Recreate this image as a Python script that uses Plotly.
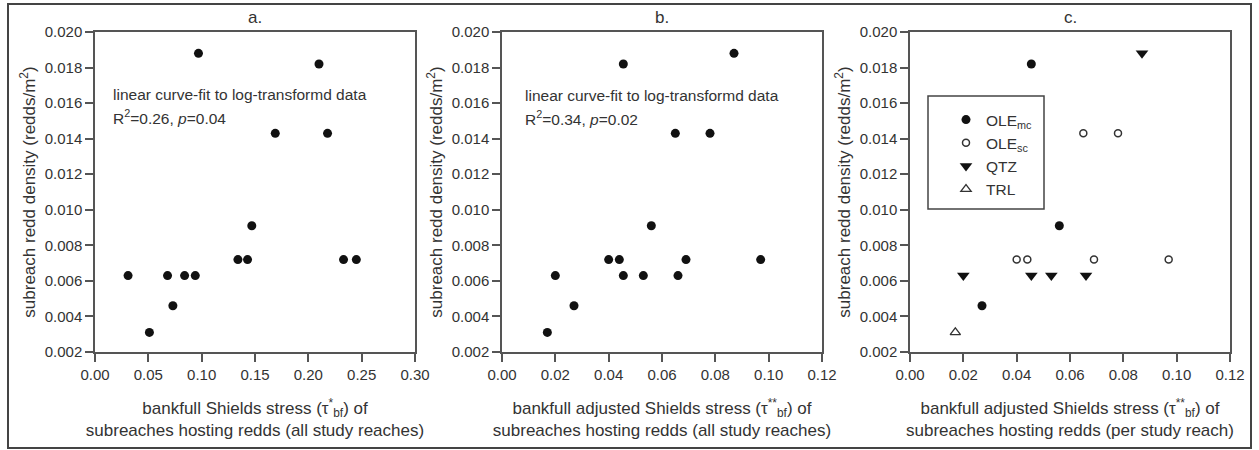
import plotly.graph_objects as go

# ---------------- data ----------------
a_x = [0.031, 0.051, 0.068, 0.073, 0.084, 0.094, 0.097, 0.134, 0.143, 0.147, 0.169, 0.210, 0.218, 0.233, 0.245]
a_y = [0.0063, 0.0031, 0.0063, 0.0046, 0.0063, 0.0063, 0.0188, 0.0072, 0.0072, 0.0091, 0.0143, 0.0182, 0.0143, 0.0072, 0.0072]

b_x = [0.017, 0.020, 0.027, 0.0455, 0.040, 0.044, 0.0455, 0.053, 0.056, 0.065, 0.066, 0.069, 0.078, 0.087, 0.097]
b_y = [0.0031, 0.0063, 0.0046, 0.0182, 0.0072, 0.0072, 0.0063, 0.0063, 0.0091, 0.0143, 0.0063, 0.0072, 0.0143, 0.0188, 0.0072]

ole_mc_x = [0.027, 0.0455, 0.056]
ole_mc_y = [0.0046, 0.0182, 0.0091]
ole_sc_x = [0.040, 0.044, 0.065, 0.069, 0.078, 0.097]
ole_sc_y = [0.0072, 0.0072, 0.0143, 0.0072, 0.0143, 0.0072]
qtz_x = [0.020, 0.0455, 0.053, 0.066, 0.087]
qtz_y = [0.0063, 0.0063, 0.0063, 0.0063, 0.0188]
trl_x = [0.017]
trl_y = [0.0031]

panel_labels = ["a.", "b.", "c."]
fit_text = ["R<sup>2</sup>=0.26, <i>p</i>=0.04", "R<sup>2</sup>=0.34, <i>p</i>=0.02"]
fit_head = "linear curve-fit to log-transformd data"
y_title = "subreach redd density (redds/m<sup>2</sup>)"
x_titles = [
    "bankfull Shields stress (τ<sup>*</sup><sub>bf</sub>) of<br>subreaches hosting redds (all study reaches)",
    "bankfull adjusted Shields stress (τ<sup>**</sup><sub>bf</sub>) of<br>subreaches hosting redds (all study reaches)",
    "bankfull adjusted Shields stress (τ<sup>**</sup><sub>bf</sub>) of<br>subreaches hosting redds (per study reach)",
]

# ---------------- layout geometry ----------------
W, H = 1259, 450
ML, MR, MT, MB = 95, 29, 32, 98
PW = W - ML - MR
PH = H - MT - MB

def px(xp):
    return (xp - ML) / PW

def py(yp):
    return (H - MB - yp) / PH

FONT = "Liberation Sans, Arial, sans-serif"
TXT = "#333333"
LINE = "#555555"
INK = "#111111"

fig = go.Figure()

mk = dict(color=INK, size=9, symbol="circle")
fig.add_trace(go.Scatter(x=a_x, y=a_y, mode="markers", marker=mk, showlegend=False,
                         xaxis="x", yaxis="y", cliponaxis=False))
fig.add_trace(go.Scatter(x=b_x, y=b_y, mode="markers", marker=mk, showlegend=False,
                         xaxis="x2", yaxis="y2", cliponaxis=False))
fig.add_trace(go.Scatter(x=ole_mc_x, y=ole_mc_y, mode="markers", name="OLE<sub>mc</sub>",
                         marker=dict(color=INK, size=9, symbol="circle"),
                         xaxis="x3", yaxis="y3", cliponaxis=False))
fig.add_trace(go.Scatter(x=ole_sc_x, y=ole_sc_y, mode="markers", name="OLE<sub>sc</sub>",
                         marker=dict(color="white", size=7, symbol="circle",
                                     line=dict(color="#333333", width=1.5)),
                         xaxis="x3", yaxis="y3", cliponaxis=False))
fig.add_trace(go.Scatter(x=qtz_x, y=qtz_y, mode="markers", name="QTZ",
                         marker=dict(color=INK, size=11, symbol="triangle-down"),
                         xaxis="x3", yaxis="y3", cliponaxis=False))
fig.add_trace(go.Scatter(x=trl_x, y=trl_y, mode="markers", name="TRL",
                         marker=dict(color="white", size=9, symbol="triangle-up",
                                     line=dict(color="#333333", width=1.3)),
                         xaxis="x3", yaxis="y3", cliponaxis=False))

domains = [
    [px(95), px(415)],
    [px(502), px(822)],
    [px(910), px(1230)],
]
xranges = [[0, 0.30], [0, 0.12], [0, 0.12]]
xdt = [0.05, 0.02, 0.02]

axis_common = dict(showline=True, linecolor=LINE, linewidth=1.5, mirror=True,
                   ticks="outside", ticklen=8, tickcolor=LINE, tickwidth=1.5,
                   showgrid=False, zeroline=False,
                   tickfont=dict(family=FONT, size=15, color=TXT))

layout = dict(width=W, height=H, margin=dict(l=ML, r=MR, t=MT, b=MB),
              paper_bgcolor="white", plot_bgcolor="white",
              font=dict(family=FONT, color=TXT))

for i in range(3):
    sx = "" if i == 0 else str(i + 1)
    layout["xaxis" + sx] = dict(axis_common, domain=domains[i], range=xranges[i],
                                tick0=0, dtick=xdt[i], tickformat=".2f",
                                anchor="y" + sx,
                                title=dict(text=x_titles[i], standoff=20,
                                           font=dict(family=FONT, size=17, color=TXT)))
    layout["yaxis" + sx] = dict(axis_common, domain=[0, 1], range=[0.002, 0.020],
                                tick0=0.002, dtick=0.002, tickformat=".3f",
                                anchor="x" + sx,
                                title=dict(text=y_title, standoff=5,
                                           font=dict(family=FONT, size=17, color=TXT)))

layout["legend"] = dict(x=px(946), y=py(103), xanchor="left", yanchor="top",
                        bgcolor="rgba(0,0,0,0)", borderwidth=0,
                        font=dict(family=FONT, size=15.5, color=TXT),
                        itemwidth=30, tracegroupgap=0)

fig.update_layout(**layout)

# panel labels
centers = [255, 662, 1070]
for i, lab in enumerate(panel_labels):
    fig.add_annotation(text=lab, xref="paper", yref="paper", x=px(centers[i]), y=py(17),
                       showarrow=False, xanchor="center", yanchor="middle",
                       font=dict(family=FONT, size=17, color=TXT))

# fit annotations
fit_pos = [(111, 94, 117), (523, 96, 118)]
for i, (xl, y1, y2) in enumerate(fit_pos):
    fig.add_annotation(text=fit_head, xref="paper", yref="paper", x=px(xl), y=py(y1),
                       showarrow=False, xanchor="left", yanchor="middle",
                       font=dict(family=FONT, size=15.5, color=TXT))
    fig.add_annotation(text=fit_text[i], xref="paper", yref="paper", x=px(xl), y=py(y2),
                       showarrow=False, xanchor="left", yanchor="middle",
                       font=dict(family=FONT, size=15.5, color=TXT))

# legend frame
fig.add_shape(type="rect", xref="paper", yref="paper",
              x0=px(928), x1=px(1044), y0=py(209), y1=py(96),
              line=dict(color="#444444", width=1.5), fillcolor="rgba(0,0,0,0)")

# outer figure frame
fig.add_shape(type="rect", xref="paper", yref="paper",
              x0=px(8), x1=px(1251), y0=py(448), y1=py(4),
              line=dict(color="#444444", width=2), fillcolor="rgba(0,0,0,0)")

fig.write_html("out.html")
